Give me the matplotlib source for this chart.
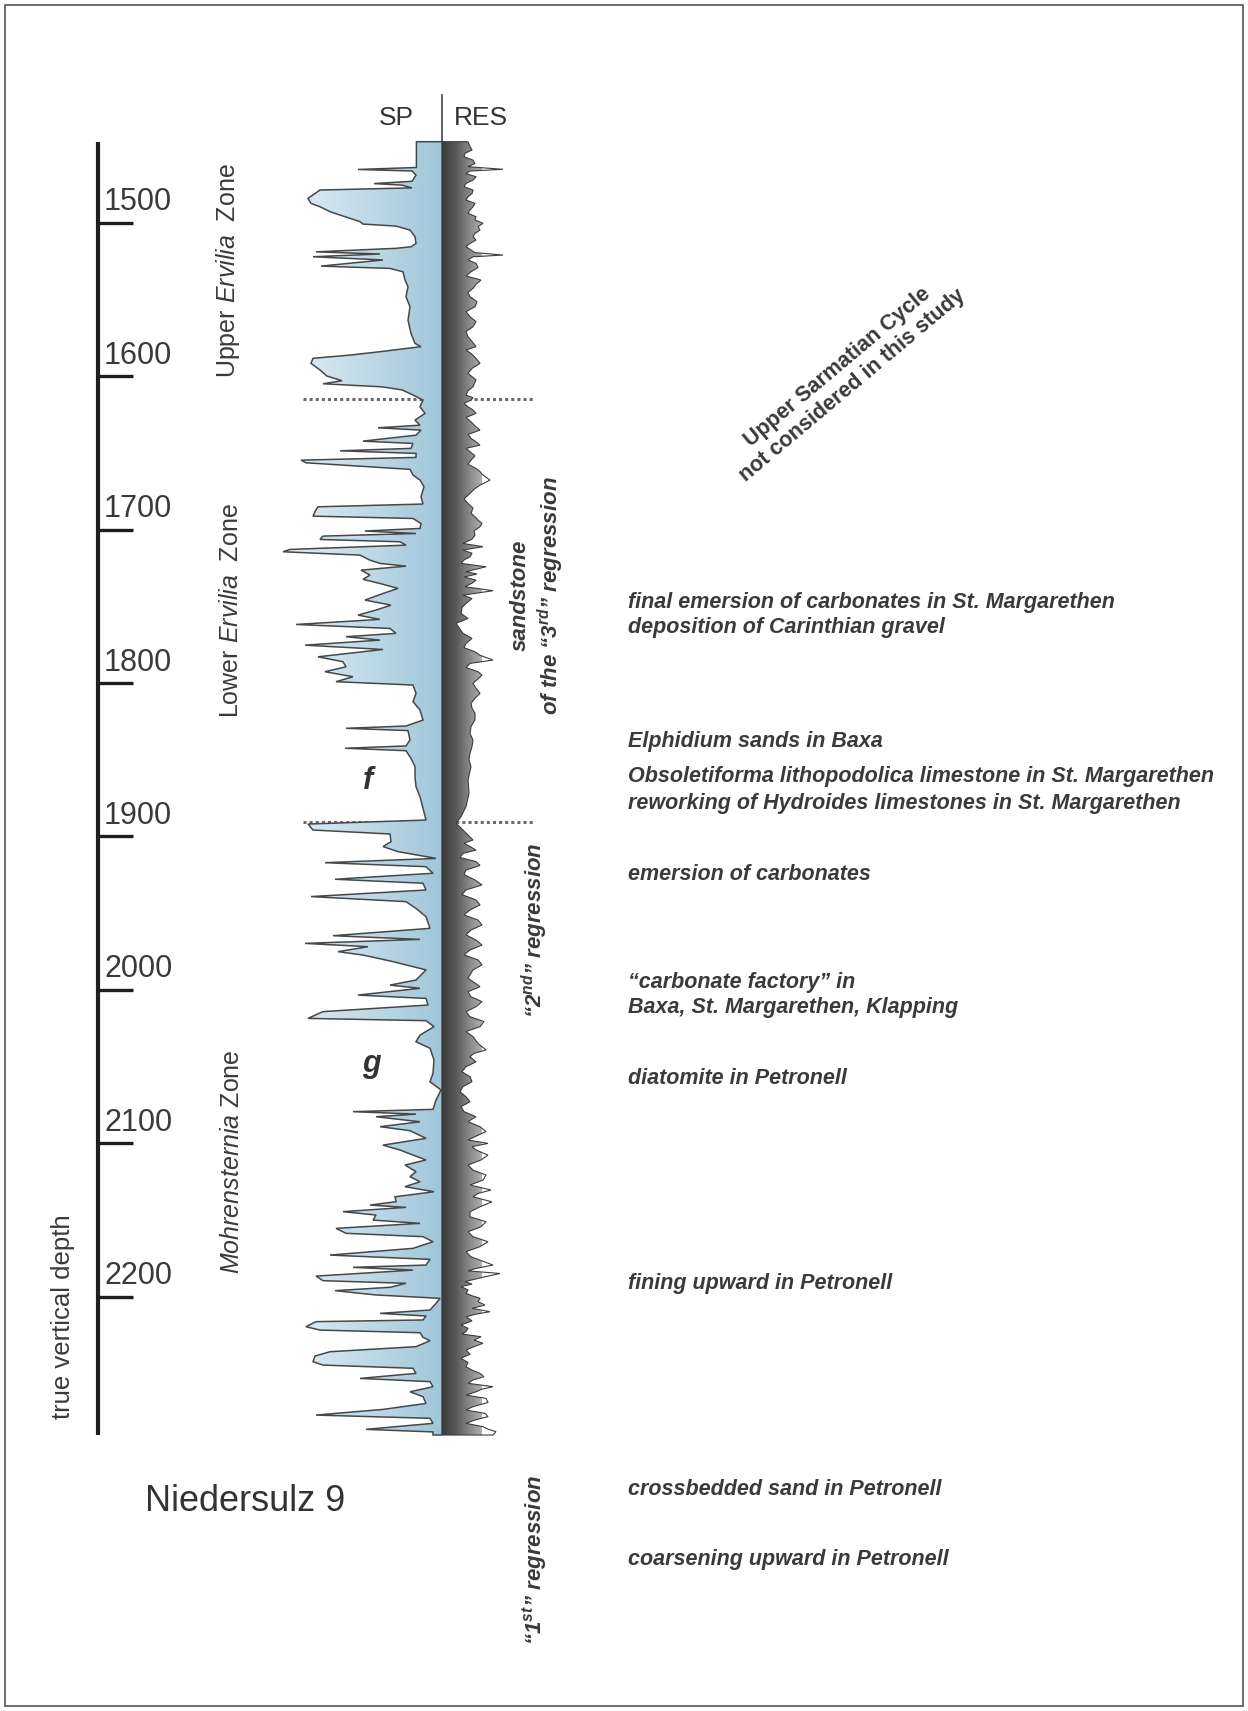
import numpy as np
import matplotlib
matplotlib.use('Agg')
import matplotlib.pyplot as plt
from matplotlib.patches import Polygon, Rectangle
from matplotlib.colors import LinearSegmentedColormap

plt.rcParams['font.family'] = ['Liberation Sans', 'DejaVu Sans']
plt.rcParams['mathtext.fontset'] = 'custom'
plt.rcParams['mathtext.rm'] = 'Liberation Sans'
plt.rcParams['mathtext.it'] = 'Liberation Sans:italic'
plt.rcParams['mathtext.bf'] = 'Liberation Sans:bold:italic'

# ---------------- data ----------------
depth_ticks = [1500, 1600, 1700, 1800, 1900, 2000, 2100, 2200]
depth_top, depth_bottom = 1447.2, 2290.3

sp_depth = [1447.2, 1464.0, 1465.3, 1466.3, 1469.0, 1473.0, 1474.5, 1475.5, 1477.3, 1478.7,
            1484.1, 1487.4, 1489.6, 1492.8, 1495.0, 1499.3, 1500.9, 1502.2, 1504.8, 1509.1,
            1513.5, 1515.7, 1516.7, 1519.0, 1520.4, 1522.2, 1524.3, 1528.3, 1529.8, 1532.0,
            1537.4, 1541.7, 1548.2, 1554.8, 1563.5, 1572.2, 1578.7, 1580.8, 1584.1, 1586.3,
            1588.4, 1591.7, 1596.0, 1600.0, 1603.0, 1605.0, 1607.0, 1609.0, 1612.0, 1615.6,
            1620.0, 1624.3, 1628.7, 1632.0, 1633.7, 1635.2, 1638.5, 1642.4, 1643.9, 1647.1,
            1648.7, 1650.4, 1653.0, 1654.8, 1656.5, 1660.8, 1664.5, 1667.8, 1672.1, 1678.7,
            1683.4, 1685.2, 1688.4, 1691.3, 1692.8, 1696.1, 1699.3, 1701.0, 1702.6, 1704.3,
            1706.5, 1708.0, 1710.2, 1713.0, 1714.5, 1716.7, 1720.0, 1722.1, 1723.9, 1726.5,
            1729.7, 1732.5, 1735.2, 1738.4, 1741.7, 1746.0, 1749.3, 1752.5, 1755.8, 1758.6,
            1761.9, 1764.5, 1767.7, 1769.9, 1772.1, 1775.4, 1778.2, 1783.0, 1786.2, 1789.5,
            1792.7, 1796.0, 1799.2, 1801.4, 1806.8, 1812.2, 1817.7, 1824.2, 1828.1, 1829.6,
            1831.1, 1837.2, 1841.1, 1842.6, 1844.2, 1849.2, 1854.6, 1861.1, 1867.6, 1874.2,
            1881.8, 1889.4, 1892.0, 1895.9, 1898.5, 1903.5, 1906.7, 1910.0, 1914.4, 1917.2,
            1919.8, 1924.1, 1928.0, 1930.6, 1935.0, 1939.3, 1942.6, 1947.0, 1952.4, 1960.0,
            1964.8, 1967.2, 1969.8, 1972.0, 1975.2, 1977.4, 1981.7, 1987.1, 1993.7, 1997.0,
            1999.1, 2003.5, 2005.7, 2010.0, 2014.3, 2018.7, 2020.2, 2024.1, 2029.6, 2033.9,
            2038.2, 2045.8, 2054.5, 2060.0, 2065.4, 2071.9, 2078.0, 2079.5, 2081.1, 2082.8,
            2086.1, 2089.3, 2091.9, 2096.9, 2101.3, 2104.5, 2107.8, 2111.0, 2114.3, 2118.6,
            2121.9, 2125.2, 2128.4, 2131.7, 2135.0, 2138.2, 2140.4, 2141.9, 2144.7, 2146.9,
            2150.2, 2152.3, 2155.6, 2158.8, 2161.0, 2164.3, 2168.6, 2173.0, 2175.8, 2179.5,
            2181.0, 2182.8, 2186.7, 2189.7, 2191.4, 2194.0, 2196.2, 2199.0, 2201.2, 2204.5,
            2208.8, 2211.0, 2212.7, 2215.3, 2216.4, 2219.7, 2221.9, 2223.6, 2226.6, 2228.8,
            2232.7, 2236.0, 2238.8, 2242.5, 2244.7, 2246.8, 2250.1, 2253.4, 2255.5, 2258.8,
            2262.1, 2265.3, 2269.7, 2273.6, 2277.3, 2279.4, 2282.7, 2286.6, 2288.3, 2290.3]
sp_value = [25.6, 25.6, 84, 30, 26, 30, 68, 40, 30, 122,
            134, 131, 122, 112, 102, 82, 79, 46, 32, 27,
            26, 31, 46, 126, 62, 129, 59, 121, 52, 39,
            37, 34, 36, 32, 34, 31, 27, 21, 62, 92,
            129, 131, 122, 115, 100, 119, 60, 40, 30, 19,
            22, 17, 27, 22, 64, 21, 26, 79, 29, 31,
            102, 26, 26, 141, 136, 32, 29, 22, 18, 21,
            19, 124, 127, 129, 29, 21, 22, 77, 26, 119,
            122, 42, 36, 152, 159, 82, 72, 62, 36, 81,
            72, 79, 62, 44, 59, 77, 51, 66, 84, 62,
            146, 52, 46, 96, 62, 137, 59, 124, 99, 96,
            117, 89, 106, 29, 26, 29, 22, 19, 36, 96,
            34, 32, 36, 97, 36, 31, 27, 27, 26, 22,
            19, 16, 134, 129, 52, 51, 59, 44, 6, 117,
            16, 9, 107, 19, 16, 131, 36, 26, 16, 12,
            109, 22, 137, 74, 104, 79, 49, 16, 26, 52,
            22, 84, 16, 14, 119, 134, 16, 8, 22, 26,
            12, 8, 9, 12, 1, 6, 9, 89, 26, 66,
            22, 62, 32, 16, 59, 42, 29, 16, 37, 26,
            32, 22, 37, 8, 47, 46, 72, 36, 99, 66,
            69, 22, 106, 96, 19, 9, 29, 112, 12, 16,
            89, 29, 126, 119, 36, 52, 107, 66, 2, 6,
            12, 62, 16, 19, 126, 136, 122, 22, 19, 12,
            26, 112, 127, 129, 119, 29, 26, 82, 12, 9,
            32, 19, 16, 59, 126, 12, 9, 76, 9, 9]

# resistivity: main readings
res_depth = [1447.2, 1450.5, 1454.8, 1459.2, 1463.5, 1465.2, 1466.3, 1470.0, 1474.4, 1478.7,
             1483.1, 1487.4, 1491.7, 1496.1, 1500.4, 1504.8, 1509.1, 1513.5, 1517.8, 1521.1,
             1522.2, 1526.5, 1532.0, 1537.4, 1542.8, 1548.2, 1554.8, 1561.3, 1567.8, 1574.3,
             1580.8, 1585.2, 1591.7, 1598.2, 1606.9, 1612.4, 1615.6, 1620.0, 1624.3, 1629.8,
             1635.2, 1640.6, 1645.0, 1649.3, 1654.8, 1660.2, 1664.5, 1667.8, 1671.1, 1676.5,
             1683.0, 1689.5, 1693.9, 1698.2, 1703.6, 1709.1, 1711.2, 1713.4, 1717.8, 1722.1,
             1724.3, 1727.5, 1733.0, 1737.3, 1739.9, 1742.8, 1748.2, 1754.7, 1761.2, 1767.7,
             1774.3, 1779.7, 1785.1, 1787.3, 1792.7, 1800.3, 1806.8, 1813.3, 1819.8, 1828.5,
             1837.2, 1845.9, 1854.6, 1863.3, 1872.0, 1880.7, 1887.2, 1891.5, 1895.9, 1902.4,
             1906.7, 1911.1, 1916.5, 1922.0, 1928.5, 1935.0, 1941.5, 1948.0, 1954.6, 1961.1,
             1967.6, 1974.1, 1980.6, 1987.1, 1998.0, 2004.6, 2011.1, 2017.6, 2024.1, 2030.6,
             2039.3, 2043.7, 2050.2, 2056.7, 2063.2, 2069.8, 2076.3, 2082.8, 2089.3, 2095.8,
             2100.2, 2104.5, 2111.0, 2117.6, 2124.1, 2130.6, 2135.0, 2141.5, 2148.0, 2154.5,
             2161.0, 2167.5, 2174.1, 2179.5, 2181.7, 2185.0, 2190.3, 2193.6, 2197.9, 2201.2,
             2205.6, 2209.9, 2213.2, 2218.6, 2222.9, 2226.2, 2230.5, 2234.9, 2240.3, 2245.8,
             2250.1, 2254.4, 2258.8, 2262.1, 2266.4, 2271.8, 2276.2, 2280.5, 2284.9, 2288.1,
             2290.3]
res_value = [26, 28, 23, 31, 26, 61, 28, 34, 24, 31,
             26, 33, 28, 34, 41, 38, 31, 28, 29, 61,
             31, 34, 29, 39, 31, 28, 33, 28, 31, 26,
             34, 29, 38, 26, 31, 24, 29, 26, 34, 29,
             38, 29, 38, 28, 29, 34, 41, 48, 38, 28,
             26, 29, 36, 38, 33, 21, 41, 21, 28, 19,
             44, 24, 34, 23, 51, 21, 24, 19, 14, 21,
             24, 33, 51, 28, 36, 31, 38, 29, 33, 29,
             31, 28, 29, 26, 27, 24, 19, 14, 21, 31,
             28, 21, 34, 24, 33, 24, 34, 28, 36, 29,
             34, 28, 36, 31, 38, 29, 34, 28, 38, 31,
             44, 28, 24, 28, 21, 24, 19, 34, 38, 33,
             46, 34, 39, 31, 41, 49, 31, 38, 28, 39,
             31, 38, 29, 51, 34, 58, 23, 19, 24, 38,
             43, 48, 24, 19, 24, 39, 41, 24, 19, 24,
             38, 31, 51, 34, 44, 31, 43, 33, 41, 54,
             51]
# resistivity: small jagged wiggles between the main readings
res_detail_depth = [1452.6, 1457.0, 1461.4, 1468.1, 1472.2, 1476.5, 1481.0, 1485.2, 1489.6, 1493.9,
                    1498.2, 1502.6, 1507.0, 1511.3, 1515.6, 1519.5, 1524.3, 1529.2, 1534.7, 1540.1,
                    1545.5, 1551.5, 1558.0, 1564.5, 1571.0, 1577.5, 1583.0, 1588.5, 1595.0, 1602.5,
                    1609.6, 1614.0, 1617.8, 1622.1, 1627.0, 1632.5, 1638.0, 1642.8, 1647.1, 1652.0,
                    1657.5, 1662.3, 1673.8, 1680.0, 1686.0, 1691.7, 1696.0, 1700.9, 1706.3,
                    1715.5, 1719.9, 1729.0, 1731.0, 1735.0, 1745.0, 1751.0, 1758.0, 1764.0, 1771.0,
                    1777.0, 1782.0, 1790.0, 1795.0, 1803.5, 1810.0, 1816.5, 1824.0, 1833.0, 1841.5,
                    1850.2, 1904.5, 1909.0, 1913.8, 1919.0, 1925.0, 1931.7, 1938.0, 1944.7, 1951.3,
                    1957.8, 1964.3, 1970.9, 1977.3, 1983.8, 1992.5, 2001.3, 2007.8, 2014.3, 2020.8,
                    2027.3, 2035.0, 2041.5, 2047.0, 2053.5, 2060.0, 2066.5, 2073.0, 2079.5, 2086.0,
                    2092.5, 2098.0, 2102.3, 2107.8, 2114.3, 2120.8, 2127.3, 2132.8, 2138.3, 2144.8,
                    2151.3, 2157.8, 2164.3, 2170.8, 2176.8, 2183.3, 2187.6, 2191.9, 2195.7, 2199.5,
                    2203.4, 2207.7, 2211.5, 2215.9, 2220.7, 2224.5, 2228.4, 2232.7, 2237.6, 2243.0,
                    2248.0, 2252.3, 2256.6, 2260.4, 2264.3, 2269.1, 2274.0, 2278.3, 2282.7, 2286.5]
res_detail_value = [30, 22, 33, 24, 31, 22, 30, 24, 31, 26,
                    33, 36, 33, 34, 24, 33, 26, 36, 24, 34,
                    26, 35, 24, 34, 24, 30, 24, 34, 30, 34,
                    26, 31, 22, 31, 24, 33, 26, 34, 24, 33,
                    26, 38, 32, 22, 31, 33, 40, 32, 30,
                    30, 22, 35, 22, 30, 30, 20, 26, 17, 30,
                    22, 38, 24, 40, 34, 33, 30, 33, 28, 30,
                    27, 22, 34, 18, 38, 22, 40, 20, 38, 22,
                    40, 24, 40, 22, 40, 26, 26, 40, 24, 42,
                    24, 36, 32, 34, 20, 30, 18, 28, 22, 26,
                    44, 26, 30, 46, 26, 44, 28, 36, 50, 28,
                    44, 26, 46, 24, 40, 26, 40, 30, 26, 30,
                    36, 30, 34, 30, 26, 20, 32, 32, 28, 26,
                    30, 42, 26, 40, 24, 46, 24, 46, 24, 46]

dotted_depths = [1615.0, 1890.5]

annotations = [
    ("final emersion of carbonates in St. Margarethen", 1747.3),
    ("deposition of Carinthian gravel", 1763.6),
    ("Elphidium sands in Baxa", 1837.9),
    ("Obsoletiforma lithopodolica limestone in St. Margarethen", 1860.8),
    ("reworking of Hydroides limestones in St. Margarethen", 1878.4),
    ("emersion of carbonates", 1924.7),
    ("\u201ccarbonate factory\u201d in", 1995.6),
    ("Baxa, St. Margarethen, Klapping", 2011.3),
    ("diatomite in Petronell", 2058.2),
    ("fining upward in Petronell", 2191.8),
    ("crossbedded sand in Petronell", 2326.1),
    ("coarsening upward in Petronell", 2371.7),
]

# ---------------- layout ----------------
W, H = 1248, 1711
PX_PER_M = 1.534
Y1500 = 222.7
D_TOP = 1500 - Y1500 / PX_PER_M
D_BOT = 1500 + (H - Y1500) / PX_PER_M
def dep(ypx):
    return 1500 + (ypx - Y1500) / PX_PER_M

fig = plt.figure(figsize=(W / 100, H / 100), dpi=100)
fig.patch.set_facecolor('white')

ax = fig.add_axes([0, 0, 1, 1])
ax.set_xlim(0, W)
ax.set_ylim(D_BOT, D_TOP)
ax.axis('off')

txt = '#3a3a3a'

# depth axis
ax.plot([98, 98], [depth_top, depth_bottom], color='#1e1e1e', lw=3.0, solid_capstyle='butt')
ax.hlines(depth_ticks, 98, 133, color='#1e1e1e', lw=2.4)
for t in depth_ticks:
    ax.text(104, t - 8, str(t), fontsize=22, color=txt, ha='left', va='baseline')
ax.text(63, 2213, 'true vertical depth', fontsize=18.5, color=txt, rotation=90,
        ha='center', va='center')

# zone labels
ax.text(228, 1531, r'Upper $\mathit{Ervilia}$  Zone', fontsize=18, color=txt,
        rotation=90, ha='center', va='center')
ax.text(231, 1753, r'Lower $\mathit{Ervilia}$  Zone', fontsize=18, color=txt,
        rotation=90, ha='center', va='center')
ax.text(232, 2112, r'$\mathit{Mohrensternia}$ Zone', fontsize=18, color=txt,
        rotation=90, ha='center', va='center')

# header
ax.text(396, dep(118), 'SP', fontsize=19, color='#333333', ha='center', va='center')
ax.text(481, dep(118), 'RES', fontsize=19, color='#333333', ha='center', va='center')
ax.plot([442, 442], [dep(95), depth_top], color='#444444', lw=1.2)

# dotted boundaries
for d in dotted_depths:
    ax.plot([303, 535], [d, d], color='#6a6a6a', lw=2.2, ls=(0, (1, 1)))

# letters
ax.text(368, 1864, 'f', fontsize=22, fontweight='bold', style='italic', color='#333',
        ha='center', va='center')
ax.text(371, 2048.5, 'g', fontsize=22, fontweight='bold', style='italic', color='#333',
        ha='center', va='center')

# regression labels
ax.text(538, 1743, 'sandstone\nof the \u201c3$^{\\mathbf{rd}}$\u201d regression', fontsize=16,
        fontweight='bold', style='italic', color=txt, rotation=90, ha='center', va='center',
        multialignment='center', linespacing=1.25)
ax.text(535, 1961, '\u201c2$^{\\mathbf{nd}}$\u201d regression', fontsize=16,
        fontweight='bold', style='italic', color=txt, rotation=90, ha='center', va='center')
ax.text(535, 2371.5, '\u201c1$^{\\mathbf{st}}$\u201d regression', fontsize=16,
        fontweight='bold', style='italic', color=txt, rotation=90, ha='center', va='center')

ax.text(845, 1600, 'Upper Sarmatian Cycle\nnot considered in this study', fontsize=15.5,
        fontweight='bold', color=txt, rotation=40, ha='center', va='center',
        multialignment='center', linespacing=1.15)

for s, d in annotations:
    ax.text(628, d, s, fontsize=15.5, fontweight='bold', style='italic', color=txt,
            ha='left', va='center')

ax.text(145, dep(1501), 'Niedersulz 9', fontsize=26, color='#333333', ha='left', va='center')

# ---------------- logs ----------------
def gradient_fill(axl, vals, deps, colors, gmax, lw=1.1, ec='#474747'):
    vals = np.asarray(vals, float)
    deps = np.asarray(deps, float)
    verts = np.column_stack([np.r_[0, vals, 0], np.r_[deps[0], deps, deps[-1]]])
    poly = Polygon(verts, closed=True, facecolor='none', edgecolor=ec, lw=lw,
                   zorder=3, joinstyle='miter')
    axl.add_patch(poly)
    cmap = LinearSegmentedColormap.from_list('g', colors)
    grad = np.linspace(0, 1, 256).reshape(1, -1)
    im = axl.imshow(grad, extent=[0, gmax, deps[-1], deps[0]], aspect='auto', cmap=cmap,
                    zorder=2, interpolation='bilinear')
    im.set_clip_path(poly)

ax_sp = fig.add_axes([262 / W, 0, 180 / W, 1])
gradient_fill(ax_sp, sp_value, sp_depth, ['#a0c6da', '#c3dce9', '#e4f0f6'], 165)
ax_sp.set_xlim(180, 0)
ax_sp.set_ylim(D_BOT, D_TOP)
ax_sp.axis('off')
ax_sp.patch.set_alpha(0)

# combine resistivity readings in depth order
r_d = np.r_[res_depth, res_detail_depth]
r_v = np.r_[res_value, res_detail_value]
order = np.argsort(r_d)
ax_res = fig.add_axes([442 / W, 0, 90 / W, 1])
gradient_fill(ax_res, r_v[order], r_d[order],
              ['#3a3a3a', '#575757', '#858585', '#b0b0b0'], 40, lw=0.8, ec='#3c3c3c')
ax_res.set_xlim(0, 90)
ax_res.set_ylim(D_BOT, D_TOP)
ax_res.axis('off')
ax_res.patch.set_alpha(0)

# outer frame
fig.patches.append(Rectangle((5 / W, 5 / H), (W - 10) / W, (H - 10) / H, fill=False,
                             ec='#555555', lw=1.2, transform=fig.transFigure, figure=fig))

fig.savefig('out.png', dpi=100, facecolor='white')
